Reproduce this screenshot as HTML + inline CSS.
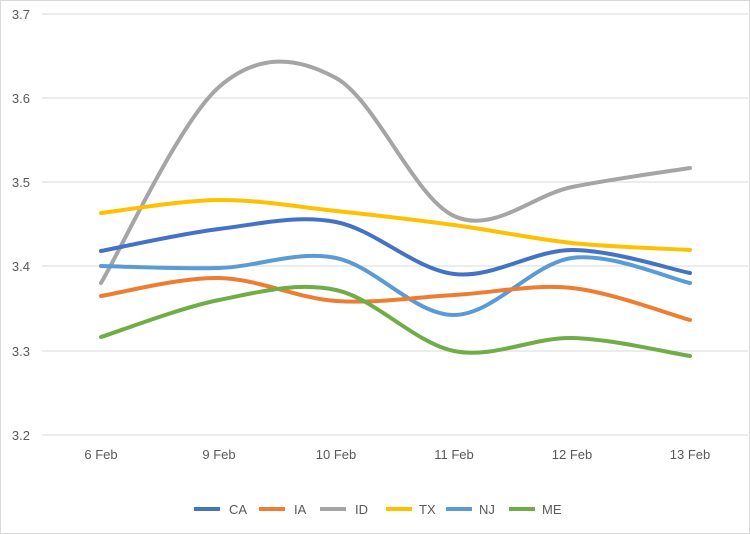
<!DOCTYPE html>
<html><head><meta charset="utf-8"><style>
body{margin:0;background:#fff}
svg{display:block;font-family:"Liberation Sans",sans-serif}
</style></head><body>
<svg id="s" width="750" height="534" xmlns="http://www.w3.org/2000/svg">
<rect x="0.5" y="0.5" width="749" height="533" fill="#fff" stroke="#d9d9d9"/>
<g stroke="#d9d9d9" stroke-width="1">
<line x1="42" y1="14" x2="748" y2="14"/>
<line x1="42" y1="98" x2="748" y2="98"/>
<line x1="42" y1="182" x2="748" y2="182"/>
<line x1="42" y1="266" x2="748" y2="266"/>
<line x1="42" y1="351" x2="748" y2="351"/>
<line x1="42" y1="435" x2="748" y2="435"/>
</g>
<g fill="#595959" font-size="13" text-anchor="end">
<text x="30" y="19">3.7</text><text x="30" y="103">3.6</text><text x="30" y="187">3.5</text>
<text x="30" y="271">3.4</text><text x="30" y="356">3.3</text><text x="30" y="440">3.2</text>
</g>
<g fill="#595959" font-size="13" text-anchor="middle">
<text x="101" y="459">6 Feb</text><text x="219" y="459">9 Feb</text><text x="336" y="459">10 Feb</text>
<text x="454" y="459">11 Feb</text><text x="572" y="459">12 Feb</text><text x="690" y="459">13 Feb</text>
</g>
<g id="lines" fill="none" stroke-width="4" stroke-linecap="round"></g>
<g stroke-width="4">
<line x1="194" y1="509" x2="220" y2="509" stroke="#4472c4"/>
<line x1="259" y1="509" x2="285" y2="509" stroke="#ed7d31"/>
<line x1="320" y1="509" x2="346" y2="509" stroke="#a5a5a5"/>
<line x1="386" y1="509" x2="412" y2="509" stroke="#ffc000"/>
<line x1="446" y1="509" x2="472" y2="509" stroke="#5b9bd5"/>
<line x1="509" y1="509" x2="535" y2="509" stroke="#70ad47"/>
</g>
<g fill="#595959" font-size="13">
<text x="229" y="514">CA</text><text x="294" y="514">IA</text><text x="355" y="514">ID</text>
<text x="419" y="514">TX</text><text x="479" y="514">NJ</text><text x="542" y="514">ME</text>
</g>
</svg>
<script>
var X=[101,219,336,454,572,690];
var S=[
["#a5a5a5",[283,87,78,216,187,168]],
["#ffc000",[213,200,211,225,243,250]],
["#4472c4",[251,229,222,274,250,273]],
["#5b9bd5",[266,268,258,315,258,283]],
["#ed7d31",[296,278,301,295,288,320]],
["#70ad47",[337,300,290,351,338,356]]];
var g=document.getElementById('lines');
S.forEach(function(s){var Y=s[1],P=X.map(function(x,i){return[x,Y[i]]});
var d="M"+P[0][0]+","+P[0][1];
for(var i=0;i<P.length-1;i++){var p0=P[Math.max(i-1,0)],p1=P[i],p2=P[i+1],p3=P[Math.min(i+2,P.length-1)];
var c1=[p1[0]+(p2[0]-p0[0])/6,p1[1]+(p2[1]-p0[1])/6],c2=[p2[0]-(p3[0]-p1[0])/6,p2[1]-(p3[1]-p1[1])/6];
d+=" C"+c1+" "+c2+" "+p2;}
var p=document.createElementNS("http://www.w3.org/2000/svg","path");p.setAttribute("d",d);p.setAttribute("stroke",s[0]);g.appendChild(p);});
</script>
</body></html>
